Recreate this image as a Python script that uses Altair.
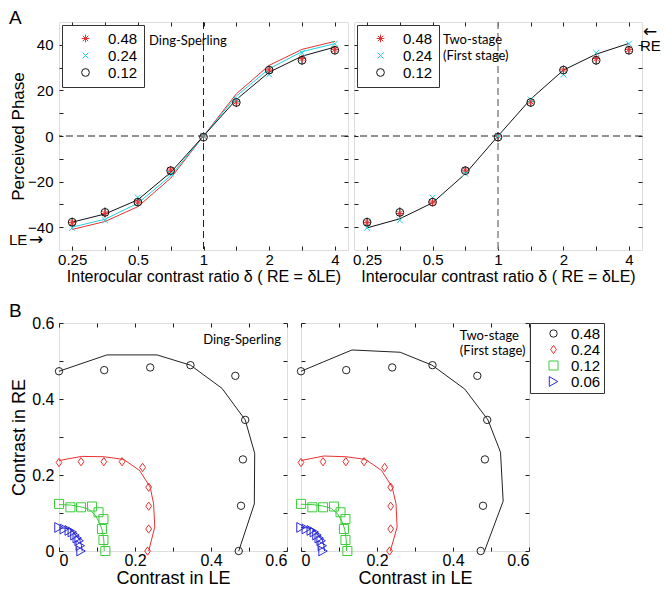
import altair as alt
import pandas as pd

FONT = "Liberation Sans"
NOTE_FONT = "Lato"
ARROW_FONT = "DejaVu Sans"
INK = "#222222"

# ---------------- Panel A : perceived phase vs interocular contrast ratio
ratios = [0.25, 0.3536, 0.5, 0.7071, 1.0, 1.4142, 2.0, 2.8284, 4.0]
a_levels = ["0.48", "0.24", "0.12"]
a_obs_048 = [-38.0, -34.0, -29.0, -15.0, 0.0, 15.0, 29.0, 34.0, 38.0]
a_obs_024 = [-40.3, -37.0, -27.0, -16.5, 0.0, 16.0, 27.0, 36.5, 40.5]
a_obs_012 = [-37.8, -33.5, -29.0, -15.2, -0.5, 14.7, 28.9, 33.2, 37.6]
a_err_012 = [2.0, 2.2, 1.8, 2.0, 2.0, 2.0, 2.0, 2.0, 1.8]
a_ds_048 = [-41.0, -37.5, -31.0, -18.5, 0.0, 18.5, 31.0, 38.0, 41.5]
a_ds_024 = [-40.0, -36.5, -29.5, -17.5, 0.0, 17.5, 29.5, 37.0, 40.5]
a_ds_012 = [-37.8, -34.2, -28.0, -16.0, 0.0, 16.0, 28.0, 35.0, 39.0]
a_ts = [-40.3, -36.3, -29.3, -16.6, 0.0, 16.2, 28.9, 35.9, 40.6]
a_xticks = [0.25, 0.3536, 0.5, 0.7071, 1.0, 1.4142, 2.0, 2.8284, 4.0]
a_yticks = [-40, -30, -20, -10, 0, 10, 20, 30, 40]

# ---------------- Panel B : iso-phase contours (contrast LE vs RE)
b_levels = ["0.48", "0.24", "0.12", "0.06"]
b_obs_x = {
    "0.48": [0.0, 0.119, 0.240, 0.346, 0.464, 0.490, 0.484, 0.479, 0.473],
    "0.24": [0.0, 0.058, 0.118, 0.166, 0.220, 0.236, 0.236, 0.236, 0.233],
    "0.12": [0.0, 0.030, 0.058, 0.087, 0.104, 0.117, 0.113, 0.117, 0.122],
    "0.06": [0.0, 0.014, 0.027, 0.035, 0.042, 0.048, 0.053, 0.056, 0.058],
}
b_obs_y = {
    "0.48": [0.473, 0.476, 0.483, 0.489, 0.461, 0.345, 0.241, 0.119, 0.0],
    "0.24": [0.233, 0.235, 0.235, 0.235, 0.220, 0.168, 0.118, 0.058, 0.0],
    "0.12": [0.124, 0.115, 0.115, 0.117, 0.102, 0.084, 0.058, 0.029, 0.0],
    "0.06": [0.062, 0.058, 0.054, 0.050, 0.042, 0.034, 0.027, 0.014, 0.0],
}
b_ds_x = {
    "0.48": [0.0, 0.126, 0.258, 0.346, 0.429, 0.490, 0.515, 0.514, 0.473],
    "0.24": [0.0, 0.060, 0.119, 0.170, 0.212, 0.240, 0.249, 0.252, 0.236],
    "0.12": [0.0, 0.030, 0.058, 0.078, 0.095, 0.106, 0.113, 0.118, 0.119],
    "0.06": [0.0, 0.015, 0.029, 0.036, 0.043, 0.050, 0.055, 0.059, 0.061],
}
b_ds_y = {
    "0.48": [0.473, 0.516, 0.516, 0.489, 0.428, 0.345, 0.257, 0.124, 0.0],
    "0.24": [0.238, 0.249, 0.248, 0.241, 0.212, 0.168, 0.124, 0.063, 0.0],
    "0.12": [0.122, 0.121, 0.116, 0.110, 0.095, 0.075, 0.057, 0.029, 0.0],
    "0.06": [0.061, 0.060, 0.058, 0.051, 0.043, 0.035, 0.028, 0.015, 0.0],
}
b_ts_x = {
    "0.48": [0.0, 0.134, 0.261, 0.345, 0.431, 0.492, 0.525, 0.532, 0.483],
    "0.24": [0.0, 0.060, 0.119, 0.170, 0.212, 0.240, 0.250, 0.253, 0.235],
    "0.12": [0.0, 0.031, 0.060, 0.080, 0.097, 0.108, 0.115, 0.119, 0.120],
    "0.06": [0.0, 0.015, 0.029, 0.037, 0.044, 0.051, 0.056, 0.060, 0.062],
}
b_ts_y = {
    "0.48": [0.473, 0.529, 0.523, 0.489, 0.426, 0.345, 0.260, 0.131, 0.0],
    "0.24": [0.238, 0.250, 0.248, 0.241, 0.212, 0.168, 0.124, 0.063, 0.0],
    "0.12": [0.123, 0.122, 0.118, 0.112, 0.097, 0.077, 0.058, 0.030, 0.0],
    "0.06": [0.062, 0.061, 0.059, 0.052, 0.044, 0.036, 0.029, 0.015, 0.0],
}
b_ticks = [0.0, 0.1, 0.2, 0.3, 0.4, 0.5, 0.6]

# ---------------- styling
STAR = "M-1,0L1,0M0,-1L0,1M-0.7,-0.7L0.7,0.7M-0.7,0.7L0.7,-0.7"
XMARK = "M-0.75,-0.75L0.75,0.75M-0.75,0.75L0.75,-0.75"
DIAMOND = "M0,-1L0.7,0L0,1L-0.7,0Z"
a_colors = ["#e8312f", "#22cfe0", "#111111"]
a_shapes = [STAR, XMARK, "circle"]
a_sizes = [60, 60, 80]
b_colors = ["#222222", "#e8312f", "#3ccc3c", "#2a2ad6"]
b_shapes = ["circle", DIAMOND, "square", "triangle-right"]
b_sizes = [55, 95, 32, 50]

xs_a = alt.Scale(type="log", domain=[0.2176, 4.595], nice=False)
ys_a = alt.Scale(domain=[-50, 50], nice=False, zero=False)
xs_b = alt.Scale(domain=[0, 0.6], nice=False, zero=False)
ys_b = alt.Scale(domain=[0, 0.6], nice=False, zero=False)

a_fit = ["fit " + lev for lev in a_levels]
b_fit = ["fit " + lev for lev in b_levels]


def long_a(series, names):
    rows = []
    for name, vals in zip(names, series):
        for r, v in zip(ratios, vals):
            rows.append({"key": name, "ratio": r, "phase": v})
    return pd.DataFrame(rows)


def long_b(xd, yd, names):
    rows = []
    for lev, name in zip(b_levels, names):
        for i, (x, y) in enumerate(zip(xd[lev], yd[lev])):
            rows.append({"key": name, "idx": i, "le": x, "re": y})
    return pd.DataFrame(rows)


a_obs = long_a([a_obs_048, a_obs_024, a_obs_012], a_levels)
a_ds = long_a([a_ds_048, a_ds_024, a_ds_012], a_fit)
a_tsdf = pd.DataFrame({"ratio": ratios, "phase": a_ts, "key": ["two-stage"] * len(ratios)})
a_err = pd.DataFrame({"ratio": ratios,
                      "lo": [v - e for v, e in zip(a_obs_012, a_err_012)],
                      "hi": [v + e for v, e in zip(a_obs_012, a_err_012)]})
b_obs = long_b(b_obs_x, b_obs_y, b_levels)
b_ds = long_b(b_ds_x, b_ds_y, b_fit)
b_ts = long_b(b_ts_x, b_ts_y, b_fit)


def frame(xf, yf, xs, ys, xvals, yvals, xexpr, yexpr, xfmt, yfmt,
          xtitle, ytitle, ylabels, lsize, xtsize, ytsize, xlp, ylp, xtp, ytp, xflush):
    df = pd.DataFrame({xf: [xvals[0]], yf: [yvals[0]]})
    ax = dict(domain=False, grid=False, ticks=True, tickSize=4, offset=-4,
              tickColor=INK, tickWidth=1, labelOverlap=False,
              labelFont=FONT, labelFontSize=lsize, labelColor="black",
              titleFont=FONT, titleFontWeight="normal", titleColor="black")
    yax = dict(orient="left", values=yvals, labels=ylabels, labelPadding=ylp,
               titleFontSize=ytsize, labelFlush=False, **ax)
    if ylabels:
        yax.update(labelExpr=yexpr, format=yfmt, title=ytitle, titlePadding=ytp)
    else:
        yax.update(title=None)
    bl = alt.Chart(df).mark_point(opacity=0).encode(
        x=alt.X(f"{xf}:Q", scale=xs,
                axis=alt.Axis(orient="bottom", values=xvals, labelExpr=xexpr,
                              format=xfmt, title=xtitle, labelPadding=xlp,
                              titlePadding=xtp, titleFontSize=xtsize,
                              labelFlush=xflush, **ax)),
        y=alt.Y(f"{yf}:Q", scale=ys, axis=alt.Axis(**yax)),
    )
    tr = alt.Chart(df).mark_point(opacity=0).encode(
        x=alt.X(f"{xf}:Q", scale=xs,
                axis=alt.Axis(orient="top", values=xvals, labels=False, title=None,
                              labelFlush=False, **ax)),
        y=alt.Y(f"{yf}:Q", scale=ys,
                axis=alt.Axis(orient="right", values=yvals, labels=False, title=None,
                              labelFlush=False, **ax)),
    )
    return [bl, tr]


A_XEXPR = "indexof([0.25, 0.5, 1, 2, 4], datum.value) >= 0 ? datum.label : ''"
A_YEXPR = "datum.value % 20 == 0 ? datum.label : ''"
B_EXPR = "indexof([0, 0.2, 0.4, 0.6], datum.value) >= 0 ? datum.label : ''"
A_XTITLE = "Interocular contrast ratio \u03b4 ( RE = \u03b4LE)"

legend_a = alt.Legend(title=None, orient="top-left", offset=3, strokeColor="#333333",
                      fillColor="white", padding=6, labelFont=FONT, labelFontSize=15,
                      labelColor="black", symbolSize=80, symbolStrokeWidth=1,
                      rowPadding=1, symbolOffset=10, labelOffset=15)
legend_b = alt.Legend(title=None, orient="right", offset=0, strokeColor="#333333",
                      fillColor="white", padding=3, labelFont=FONT, labelFontSize=15,
                      labelColor="black", symbolSize=80, symbolStrokeWidth=1,
                      rowPadding=0, symbolOffset=13, labelOffset=10)


def text_at(df, xs, ys, size=13, font=NOTE_FONT, align="left", baseline="middle"):
    return alt.Chart(df).mark_text(font=font, fontSize=size, align=align,
                                   baseline=baseline, color="black").encode(
        x=alt.X("x:Q", scale=xs, axis=None),
        y=alt.Y("y:Q", scale=ys, axis=None),
        text="t:N")


def pixel_text(t, x, y, size, align="left", baseline="top", font=FONT):
    return alt.Chart(pd.DataFrame({"t": [t]})).mark_text(
        font=font, fontSize=size, align=align, baseline=baseline, color="black"
    ).encode(x=alt.value(x), y=alt.value(y), text="t:N")


def panel_a(lines_df, line_dom, line_rng, vcolor, vwidth, note_df, extra):
    vline = alt.Chart(pd.DataFrame({"ratio": [1.0]})).mark_rule(
        strokeDash=[7, 4], color=vcolor, strokeWidth=vwidth).encode(
        x=alt.X("ratio:Q", scale=xs_a, axis=None))
    hline = alt.Chart(pd.DataFrame({"phase": [0.0]})).mark_rule(
        strokeDash=[7, 4], color=INK, strokeWidth=1).encode(
        y=alt.Y("phase:Q", scale=ys_a, axis=None))
    lines = alt.Chart(lines_df).mark_line(strokeWidth=1).encode(
        x=alt.X("ratio:Q", scale=xs_a, axis=None),
        y=alt.Y("phase:Q", scale=ys_a, axis=None),
        stroke=alt.Stroke("key:N", scale=alt.Scale(domain=line_dom, range=line_rng),
                          legend=None),
    )
    errs = alt.Chart(a_err).mark_rule(color=INK, strokeWidth=1).encode(
        x=alt.X("ratio:Q", scale=xs_a, axis=None),
        y=alt.Y("lo:Q", scale=ys_a, axis=None), y2="hi:Q")
    pts = alt.Chart(a_obs).mark_point(filled=False, strokeWidth=1, opacity=1).encode(
        x=alt.X("ratio:Q", scale=xs_a, axis=None),
        y=alt.Y("phase:Q", scale=ys_a, axis=None),
        color=alt.Color("key:N", scale=alt.Scale(domain=a_levels, range=a_colors),
                        legend=legend_a, sort=a_levels),
        shape=alt.Shape("key:N", scale=alt.Scale(domain=a_levels, range=a_shapes),
                        legend=legend_a, sort=a_levels),
        size=alt.Size("key:N", scale=alt.Scale(domain=a_levels, range=a_sizes), legend=None),
    )
    note = text_at(note_df, xs_a, ys_a)
    return [vline, hline, lines, errs, pts, note] + extra


LAYER_RES = dict(x="independent", y="independent")
LEG_RES = dict(color="independent", shape="independent", size="independent",
               stroke="independent")

a1_layers = panel_a(a_ds, a_fit, a_colors, INK, 1,
                    pd.DataFrame({"x": [0.5626], "y": [41.5], "t": ["Ding-Sperling"]}),
                    [pixel_text("A", -50, -13, 19),
                     text_at(pd.DataFrame({"x": [0.2176], "y": [-45.5], "t": ["LE"]}),
                             xs_a, ys_a, size=15, font=FONT).encode(x=alt.value(-50)),
                     text_at(pd.DataFrame({"x": [0.2176], "y": [-45.5], "t": ["\u2192"]}),
                             xs_a, ys_a, size=17, font=ARROW_FONT).encode(x=alt.value(-30))])
a1_frame = frame("ratio", "phase", xs_a, ys_a, a_xticks, a_yticks, A_XEXPR, A_YEXPR,
                 "~g", "d", A_XTITLE, "Perceived Phase", True, 15, 16, 17, 2, 6, 1, 0, False)
A1 = alt.layer(*(a1_frame + a1_layers)).resolve_axis(**LAYER_RES) \
    .properties(width=289, height=228)

a2_layers = panel_a(a_tsdf, ["two-stage"], ["#111111"], "#888888", 1.5,
                    pd.DataFrame({"x": [0.558, 0.558], "y": [42.0, 35.0],
                                  "t": ["Two-stage", "(First stage)"]}),
                    [text_at(pd.DataFrame({"x": [4.0], "y": [45.5], "t": ["\u2190"]}),
                             xs_a, ys_a, size=17, font=ARROW_FONT, align="center").encode(x=alt.value(296)),
                     text_at(pd.DataFrame({"x": [4.0], "y": [39.5], "t": ["RE"]}),
                             xs_a, ys_a, size=15, font=FONT).encode(x=alt.value(286))])
a2_frame = frame("ratio", "phase", xs_a, ys_a, a_xticks, a_yticks, A_XEXPR, A_YEXPR,
                 "~g", "d", A_XTITLE, None, False, 15, 16, 17, 2, 6, 1, 0, False)
A2 = alt.layer(*(a2_frame + a2_layers)).resolve_axis(**LAYER_RES) \
    .properties(width=288, height=228)


def panel_b(lines_df, legend, note_df, note_align, extra):
    lines = alt.Chart(lines_df).mark_line(strokeWidth=1).encode(
        x=alt.X("le:Q", scale=xs_b, axis=None),
        y=alt.Y("re:Q", scale=ys_b, axis=None),
        stroke=alt.Stroke("key:N", scale=alt.Scale(domain=b_fit, range=b_colors), legend=None),
        order="idx:Q",
    )
    pts = alt.Chart(b_obs).mark_point(filled=False, strokeWidth=1, opacity=1).encode(
        x=alt.X("le:Q", scale=xs_b, axis=None),
        y=alt.Y("re:Q", scale=ys_b, axis=None),
        color=alt.Color("key:N", scale=alt.Scale(domain=b_levels, range=b_colors),
                        legend=legend, sort=b_levels),
        shape=alt.Shape("key:N", scale=alt.Scale(domain=b_levels, range=b_shapes),
                        legend=legend, sort=b_levels),
        size=alt.Size("key:N", scale=alt.Scale(domain=b_levels, range=b_sizes), legend=None),
    )
    note = text_at(note_df, xs_b, ys_b, align=note_align)
    return [lines, pts, note] + extra


def b_frame(ylabels, ytitle):
    return frame("le", "re", xs_b, ys_b, b_ticks, b_ticks, B_EXPR, B_EXPR, "~g", "~g",
                 "Contrast in LE", ytitle, ylabels, 16, 18, 18, 1, 5, 1, 3, True)


B1 = alt.layer(*(b_frame(True, "Contrast in RE") +
                 panel_b(b_ds, None, pd.DataFrame({"x": [0.584], "y": [0.555], "t": ["Ding-Sperling"]}),
                         "right", [pixel_text("B", -50, -21, 19)]))) \
    .resolve_axis(**LAYER_RES).properties(width=228, height=228)

B2 = alt.layer(*(b_frame(False, None) +
                 panel_b(b_ts, legend_b,
                         pd.DataFrame({"x": [0.418, 0.418], "y": [0.567, 0.527],
                                       "t": ["Two-stage", "(First stage)"]}),
                         "left", []))) \
    .resolve_axis(**LAYER_RES).properties(width=228, height=228)

IND = dict(x="independent", y="independent", color="independent",
           shape="independent", stroke="independent", size="independent")

rowA = alt.hconcat(A1, A2, spacing=6, bounds="flush").resolve_scale(**IND).resolve_legend(**LEG_RES)
rowB = alt.hconcat(B1, B2, spacing=14, bounds="flush").resolve_scale(**IND).resolve_legend(**LEG_RES)
chart = alt.vconcat(rowA, rowB, spacing=16).resolve_scale(**IND).resolve_legend(**LEG_RES).properties(
    padding={"left": 0, "top": 0, "right": 0, "bottom": 0}
).configure_view(stroke="#333333", strokeWidth=1).configure(background="white")

chart.save("out.html", embed_options={"renderer": "svg", "actions": False})
